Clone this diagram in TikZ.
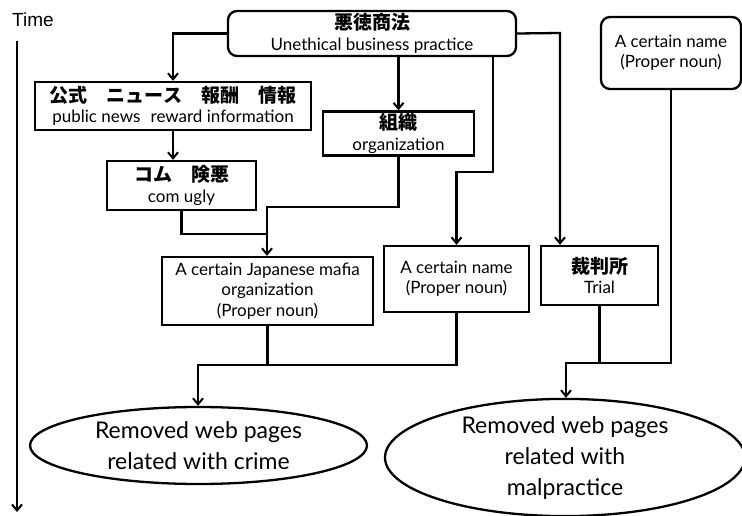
\documentclass[tikz,border=0pt]{standalone}
\usepackage{fontspec}
\setmainfont{Lato}
\newfontfamily\jp{Noto Sans CJK JP}
\newfontfamily\arialish{Liberation Sans}
\usetikzlibrary{arrows.meta,shapes.geometric}
\begin{document}
\begin{tikzpicture}[x=1pt,y=-1pt,
  box/.style={draw,line width=2.3pt,rectangle,align=center,inner sep=0pt,font=\fontsize{17}{20.5}\selectfont},
  rbox/.style={box,rounded corners=9pt},
  oval/.style={draw,line width=2.3pt,ellipse,align=center,inner sep=0pt,font=\fontsize{23}{31}\selectfont},
  link/.style={line width=2.3pt,-{Straight Barb[length=6pt,width=10pt,line width=2pt]}},
  wire/.style={line width=2.3pt}]
\useasboundingbox (0,0) rectangle (742,516);
\newcommand{\jtext}[1]{{\jp\bfseries\fontsize{19}{20.5}\selectfont #1}}

% time axis
\node[font=\arialish\fontsize{19}{22}\selectfont,anchor=west,inner sep=0pt] (time) at (12,20) {Time};
\coordinate (t0) at (17,41);
\coordinate (t1) at (17,512);
\draw[link] (t0) -- (t1);

% nodes
\node[rbox,minimum width=288,minimum height=45] (top) at (372,33.5)
  {\jtext{悪徳商法}\\Unethical business practice};
\node[box,minimum width=276,minimum height=48] (kou) at (173,106)
  {\jtext{公式　ニュース　報酬　情報}\\public news\hspace{0.6em}reward information};
\node[box,minimum width=149,minimum height=49] (com) at (181.5,185.5)
  {\jtext{コム　険悪}\\com ugly};
\node[box,minimum width=151,minimum height=44] (org) at (398.5,133.5)
  {\jtext{組織}\\organization};
\node[box,minimum width=211,minimum height=68] (mafia) at (267.5,291)
  {A certain Japanese mafia\\organization\\(Proper noun)};
\node[box,minimum width=145,minimum height=66] (name1) at (456.5,279)
  {A certain name\\(Proper noun)};
\node[box,minimum width=117,minimum height=59] (trial) at (599.5,275.5)
  {\jtext{裁判所}\\Trial};
\node[rbox,minimum width=140,minimum height=72] (name2) at (671,53)
  {A certain name\\(Proper noun)};
\node[oval,minimum width=337,minimum height=77] (crime) at (198.5,445.5)
  {Removed web pages\\related with crime};
\node[oval,minimum width=360,minimum height=101] (mal) at (565,457.5)
  {Removed web pages\\related with\\malpractice};

% junction points
\coordinate (jo) at (267,207);
\coordinate (jc) at (267,234);
\coordinate (jn) at (493,172);
\coordinate (jt) at (560,33);
\coordinate (jm) at (198,365);
\coordinate (jr) at (566,363);

% connectors
\draw[link] (top.west) -| (kou.north);
\draw[link] (kou.south) -- (kou.south |- com.north);
\draw[link] (org.north |- top.south) -- (org.north);
\draw[link] (top.south -| jn) -- (jn) -| (name1.north);
\draw[link] (top.east) -- (jt) -- (jt |- trial.north);
\draw[wire] (com.south) |- (jc);
\draw[link] (org.south) |- (jo) -- (jo |- mafia.north);
\draw[wire] (mafia.south) -- (mafia.south |- jm);
\draw[link] (name1.south) |- (jm) -- (jm |- crime.north);
\draw[wire] (trial.south) -- (trial.south |- jr);
\draw[link] (name2.south) |- (jr) -- (jr |- mal.north);
\end{tikzpicture}
\end{document}
